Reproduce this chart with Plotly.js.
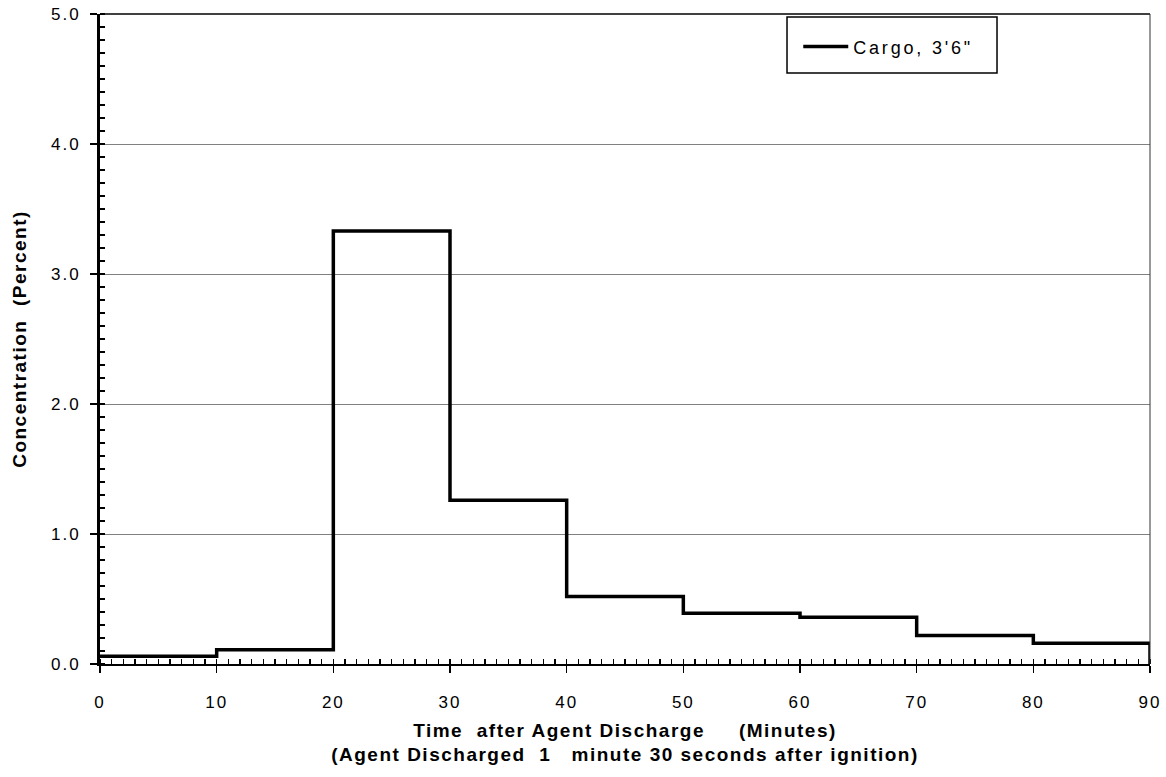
<!DOCTYPE html>
<html>
<head>
<meta charset="utf-8">
<script src="https://cdn.plot.ly/plotly-3.0.1.min.js"></script>
<style>
  html, body { margin: 0; padding: 0; background: #fff; }
  #chart { width: 1166px; height: 777px; }
  .xtick text, .ytick text { letter-spacing: 2px; }
  .legendtext { letter-spacing: 2.8px; }
  .g-xtitle text, .g-ytitle text { letter-spacing: 1.5px; }
</style>
</head>
<body>
<div id="chart"></div>
<script>
// Interval start / end times (minutes after agent discharge)
const intervalStart = [0, 10, 20, 30, 40, 50, 60, 70, 80];
const intervalEnd   = [10, 20, 30, 40, 50, 60, 70, 80, 90];
// Measured concentration (percent) in each interval
const concentration = [0.06, 0.11, 3.33, 1.26, 0.52, 0.39, 0.36, 0.22, 0.16];
const seriesName = "Cargo, 3'6\"";
const xTickVals = [0, 10, 20, 30, 40, 50, 60, 70, 80, 90];
const yTickVals = [0, 1, 2, 3, 4, 5];
const yTickText = ["0.0", "1.0", "2.0", "3.0", "4.0", "5.0"];

// Build step path: hold each value over its interval, drop to axis at the end
const lastEnd = intervalEnd[intervalEnd.length - 1];
const stepX = intervalStart.concat([lastEnd, lastEnd]);
const stepY = concentration.concat([concentration[concentration.length - 1], 0]);

const font = "Liberation Sans, Arial, sans-serif";

const trace = {
  x: stepX,
  y: stepY,
  type: 'scatter',
  mode: 'lines',
  line: { shape: 'hv', color: '#000', width: 3.5 },
  name: seriesName,
  showlegend: true
};

const layout = {
  width: 1166,
  height: 777,
  margin: { l: 100, r: 16, t: 14, b: 113 },
  paper_bgcolor: '#fff',
  plot_bgcolor: '#fff',
  showlegend: true,
  font: { family: font, color: '#000', size: 17 },
  xaxis: {
    range: [0, 90],
    tickvals: xTickVals,
    ticks: 'outside',
    ticklen: 7,
    tickwidth: 1.5,
    tickcolor: '#000',
    ticklabelstandoff: 15,
    minor: { dtick: 1, ticks: 'inside', ticklen: 5, tickwidth: 1.2, tickcolor: '#000', showgrid: false },
    showgrid: false,
    zeroline: false,
    showline: true,
    linecolor: '#000',
    linewidth: 2,
    tickfont: { size: 17, family: font, color: '#000' },
    title: {
      text: '<b>Time\u00a0 after Agent Discharge\u00a0\u00a0\u00a0\u00a0 (Minutes)</b><br><b>(Agent Discharged\u00a0 1\u00a0\u00a0 minute 30 seconds after ignition)</b>',
      font: { size: 19, family: font, color: '#000' },
      standoff: 12
    },
    fixedrange: true
  },
  yaxis: {
    range: [0, 5],
    tickvals: yTickVals,
    ticktext: yTickText,
    ticks: 'outside',
    ticklen: 7,
    tickwidth: 1.5,
    tickcolor: '#000',
    ticklabelstandoff: 6,
    minor: { dtick: 0.1, ticks: 'inside', ticklen: 5, tickwidth: 1.2, tickcolor: '#000', showgrid: false },
    showgrid: true,
    gridcolor: '#808080',
    gridwidth: 1,
    zeroline: false,
    showline: true,
    linecolor: '#000',
    linewidth: 3,
    tickfont: { size: 17, family: font, color: '#000' },
    title: {
      text: '<b>Concentration\u00a0 (Percent)</b>',
      font: { size: 19, family: font, color: '#000' },
      standoff: 20
    },
    fixedrange: true
  },
  legend: {
    x: 0.665,
    xanchor: 'left',
    y: 0.978,
    yanchor: 'top',
    bgcolor: 'rgba(0,0,0,0)',
    borderwidth: 0,
    font: { size: 18, family: font, color: '#000' },
    itemwidth: 45
  },
  shapes: [
    { type: 'line', xref: 'paper', yref: 'paper', x0: 0, x1: 1, y0: 1, y1: 1, line: { color: '#000', width: 1.5 } },
    { type: 'line', xref: 'paper', yref: 'paper', x0: 1, x1: 1, y0: 0, y1: 1, line: { color: '#333', width: 1 } },
    { type: 'rect', xref: 'paper', yref: 'paper', x0: 0.6543, x1: 0.8543, y0: 0.9092, y1: 0.9954, line: { color: '#000', width: 1.5 }, fillcolor: 'rgba(0,0,0,0)' }
  ]
};

Plotly.newPlot('chart', [trace], layout, { staticPlot: true, displayModeBar: false });
</script>
</body>
</html>
